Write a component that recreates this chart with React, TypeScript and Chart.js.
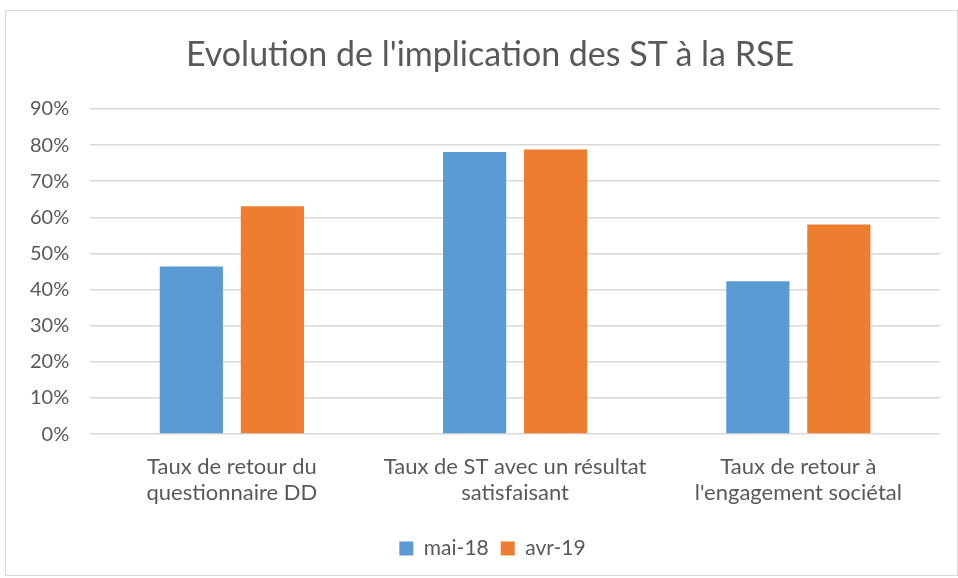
import React, { useEffect, useRef } from "react";
import { Chart, registerables } from "chart.js";

Chart.register(...registerables);

const categories: string[][] = [
  ["Taux de retour du", "questionnaire DD"],
  ["Taux de ST avec un résultat", "satisfaisant"],
  ["Taux de retour à", "l'engagement sociétal"],
];
const seriesNames = ["mai-18", "avr-19"];
const mai18 = [46.4, 78.1, 42.3];
const avr19 = [63.1, 78.8, 58.0];
const colors = ["#5B9BD5", "#ED7D31"];
const title = "Evolution de l'implication des ST à la RSE";

const FONT = "Lato, 'Open Sans', sans-serif";
const TEXT = "#595959";

const shiftLegend = {
  id: "shiftLegend",
  afterLayout(chart: any) {
    if (chart.legend) {
      chart.legend.left += 18;
      chart.legend.right += 18;
    }
  },
};

export default function App() {
  const ref = useRef<HTMLCanvasElement | null>(null);
  useEffect(() => {
    document.body.style.margin = "0";
    const chart = new Chart(ref.current!, {
      type: "bar",
      data: {
        labels: categories,
        datasets: [
          { label: seriesNames[0], data: mai18, backgroundColor: colors[0] },
          { label: seriesNames[1], data: avr19, backgroundColor: colors[1] },
        ],
      },
      plugins: [shiftLegend],
      options: {
        animation: false,
        responsive: false,
        maintainAspectRatio: false,
        layout: { padding: { left: 3, right: 17, top: 98, bottom: 6 } },
        datasets: {
          bar: { categoryPercentage: 0.572, barPercentage: 0.78 },
        },
        plugins: {
          title: { display: false },
          legend: {
            position: "bottom",
            labels: {
              color: TEXT,
              font: { family: FONT, size: 21 },
              boxWidth: 14,
              boxHeight: 14,
              padding: 12,
            },
          },
          tooltip: { enabled: false },
        },
        scales: {
          x: {
            grid: { display: false },
            border: { display: false },
            afterFit: (axis: any) => {
              axis.height += 8;
            },
            ticks: {
              color: TEXT,
              font: { family: FONT, size: 22, lineHeight: 1.18 },
              padding: 12,
              maxRotation: 0,
            },
          },
          y: {
            min: 0,
            max: 90,
            grid: { color: "#d9d9d9", lineWidth: 1.5, drawTicks: false },
            border: { display: false },
            ticks: {
              stepSize: 10,
              color: TEXT,
              font: { family: FONT, size: 20 },
              padding: 21,
              callback: (v: any) => v + "%",
            },
          },
        },
      },
    });
    return () => chart.destroy();
  }, []);
  return (
    <div
      style={{
        position: "absolute",
        left: 5,
        top: 10,
        width: 951,
        height: 564,
        border: "1px solid #d9d9d9",
        background: "#fff",
      }}
    >
      <canvas ref={ref} width={951} height={564} />
      <div
        style={{
          position: "absolute",
          left: -5,
          top: 22,
          width: 978,
          textAlign: "center",
          fontFamily: FONT,
          fontSize: 34,
          lineHeight: "40px",
          color: TEXT,
          whiteSpace: "nowrap",
        }}
      >
        {title}
      </div>
    </div>
  );
}
